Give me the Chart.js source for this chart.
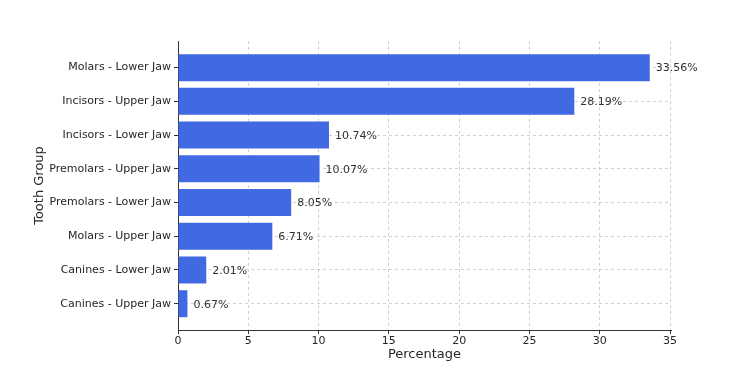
<!DOCTYPE html>
<html>
<head>
<meta charset="utf-8">
<script src="https://cdn.jsdelivr.net/npm/chart.js@4.4.0/dist/chart.umd.min.js"></script>
<style>
  html, body { margin: 0; padding: 0; background: #fff; }
  #wrap { width: 750px; height: 382px; }
</style>
</head>
<body>
<div id="wrap"><canvas id="chart"></canvas></div>
<script>
// Tooth groups, top to bottom
const toothGroups = [
    'Molars - Lower Jaw',
    'Incisors - Upper Jaw',
    'Incisors - Lower Jaw',
    'Premolars - Upper Jaw',
    'Premolars - Lower Jaw',
    'Molars - Upper Jaw',
    'Canines - Lower Jaw',
    'Canines - Upper Jaw'
];
const percentages = [33.56, 28.19, 10.74, 10.07, 8.05, 6.71, 2.01, 0.67];
const xTicks = [0, 5, 10, 15, 20, 25, 30, 35];

const FONT = 'DejaVu Sans';

// Draw the percentage text next to each bar
const valueLabels = {
    id: 'valueLabels',
    afterDatasetsDraw(chart) {
        const ctx = chart.ctx;
        const xs = chart.scales.x, ys = chart.scales.y;
        ctx.save();
        ctx.font = '11px "' + FONT + '"';
        ctx.fillStyle = '#333';
        ctx.textBaseline = 'middle';
        ctx.textAlign = 'left';
        percentages.forEach((v, i) => {
            ctx.fillText(v.toFixed(2) + '%', xs.getPixelForValue(v) + 6, ys.getPixelForValue(i) + 1);
        });
        ctx.restore();
    }
};

const gridOpts = {
    color: 'rgba(170,170,170,0.55)',
    offset: false,
    tickColor: '#333',
    tickBorderDash: [],
    tickLength: 4
};

new Chart(document.getElementById('chart').getContext('2d'), {
    type: 'bar',
    data: {
        datasets: [{
            data: percentages.map((v, i) => ({ x: v, y: i })),
            backgroundColor: '#4169E1',
            borderWidth: 0,
            categoryPercentage: 0.8,
            barPercentage: 1.0
        }]
    },
    options: {
        indexAxis: 'y',
        responsive: true,
        maintainAspectRatio: false,
        animation: false,
        layout: { padding: { top: 41, right: 79, left: 32, bottom: 20 } },
        plugins: {
            legend: { display: false },
            tooltip: { enabled: false }
        },
        scales: {
            x: {
                type: 'linear',
                min: 0,
                max: 35.07,
                offset: false,
                z: 1,
                afterFit: axis => { axis.height = 32; },
                afterBuildTicks: axis => { axis.ticks = xTicks.map(v => ({ value: v })); },
                ticks: { color: '#262626', font: { family: FONT, size: 11 }, padding: 1, maxRotation: 0 },
                grid: gridOpts,
                border: { display: true, color: '#333', width: 1, dash: [3, 3] },
                title: { display: true, text: 'Percentage', color: '#262626', font: { family: FONT, size: 13 }, padding: { top: 0, bottom: 0 } }
            },
            y: {
                type: 'linear',
                reverse: true,
                min: -0.79,
                max: 7.78,
                offset: false,
                z: 1,
                afterFit: axis => { axis.width = 146; },
                afterBuildTicks: axis => { axis.ticks = toothGroups.map((_, i) => ({ value: i })); },
                ticks: {
                    color: '#262626',
                    font: { family: FONT, size: 11 },
                    padding: 3,
                    callback: v => toothGroups[v]
                },
                grid: gridOpts,
                border: { display: true, color: '#333', width: 1, dash: [3, 3] },
                title: { display: true, text: 'Tooth Group', color: '#262626', font: { family: FONT, size: 13 }, padding: { top: 0, bottom: 0 } }
            }
        }
    },
    plugins: [valueLabels]
});
</script>
</body>
</html>
